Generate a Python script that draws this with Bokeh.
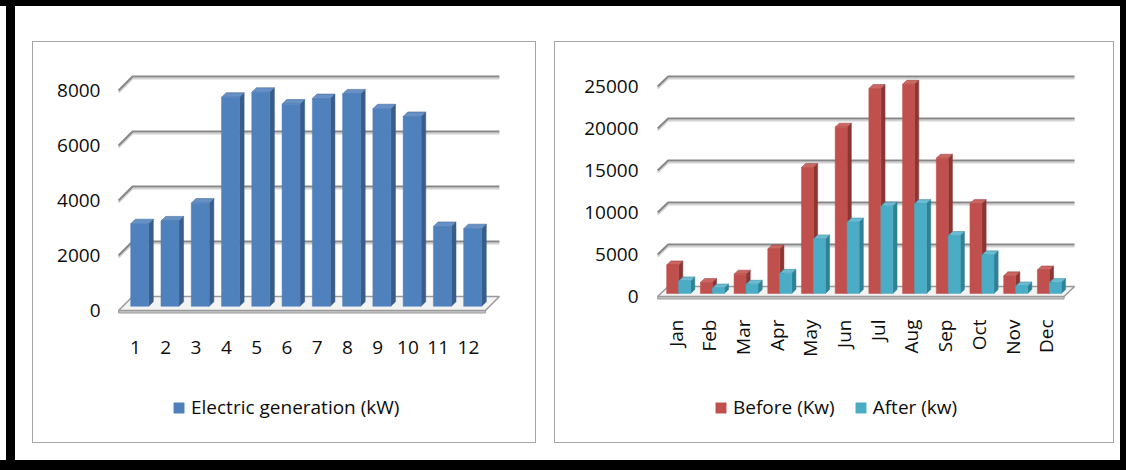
import numpy as np
from bokeh.plotting import figure
from bokeh.models import Range1d, FixedTicker, Legend, LegendItem, Spacer
from bokeh.layouts import row, column
from bokeh.embed import file_html
from bokeh.resources import INLINE

# ---------------- data ----------------
gen_months = [1, 2, 3, 4, 5, 6, 7, 8, 9, 10, 11, 12]
gen_values = [3000, 3100, 3750, 7600, 7780, 7350, 7550, 7720, 7180, 6900, 2900, 2820]
gen_ticks = [0, 2000, 4000, 6000, 8000]
gen_label = "Electric generation (kW)"

months = ["Jan", "Feb", "Mar", "Apr", "May", "Jun", "Jul", "Aug", "Sep", "Oct", "Nov", "Dec"]
before_kw = [3400, 1300, 2300, 5300, 15000, 19800, 24400, 24900, 16100, 10700, 2100, 2800]
after_kw = [1500, 650, 1100, 2400, 6500, 8500, 10400, 10700, 6900, 4600, 900, 1300]
usage_ticks = [0, 5000, 10000, 15000, 20000, 25000]
before_label = "Before (Kw)"
after_label = "After (kw)"

FONT = "Open Sans"
TXT = "#0d0d0d"


def base_fig(w, h, mb, xr, yr):
    p = figure(width=w, height=h, x_range=Range1d(*xr), y_range=Range1d(*yr),
               output_backend="svg", toolbar_location=None,
               min_border_left=mb[0], min_border_right=mb[1],
               min_border_top=mb[2], min_border_bottom=mb[3],
               background_fill_color="white", border_fill_color="white")
    p.outline_line_color = None
    p.grid.visible = False
    for ax in (p.xaxis[0], p.yaxis[0]):
        ax.axis_line_color = None
        ax.major_tick_line_color = None
        ax.minor_tick_line_color = None
        ax.major_label_text_font = FONT
        ax.major_label_text_font_size = "19px"
        ax.major_label_text_color = TXT
    p.xaxis.fixed_location = 0
    return p


def draw_floor_grid(p, ticks, x0, x1, D, px_y):
    dx, dy = D
    gxs, gys, sxs, sys_ = [], [], [], []
    sh = 2.0 / px_y
    for t in ticks[1:]:
        gxs.append([x0, x0 + dx, x1 + dx])
        gys.append([t, t + dy, t + dy])
        sxs.append([x0, x0 + dx, x1 + dx])
        sys_.append([t - sh, t + dy - sh, t + dy - sh])
    p.multi_line(sxs, sys_, line_color="#d2d2d2", line_width=2)
    p.multi_line(gxs, gys, line_color="#878787", line_width=2)
    t0 = ticks[0]
    p.patch([x0, x1, x1, x0], [t0 - 2.5 / px_y, t0 - 2.5 / px_y, t0, t0],
            fill_color="#c8c8c8", line_color="#9a9a9a", line_width=1)
    p.patch([x0, x1, x1 + dx, x0 + dx], [t0, t0, t0 + dy, t0 + dy],
            fill_color="#f3f3f3", line_color="#9a9a9a", line_width=1.5)


def draw_bars(p, xc, vals, w, D, d1, d2, front, side, top):
    xc = np.asarray(xc, dtype=float)
    vals = np.asarray(vals, dtype=float)
    dx0, dy0 = D[0] * d1, D[1] * d1
    ddx, ddy = D[0] * (d2 - d1), D[1] * (d2 - d1)
    left = xc - w / 2 + dx0
    right = xc + w / 2 + dx0
    bottom = np.full_like(vals, dy0)
    topv = vals + dy0
    side_xs = [[r, r + ddx, r + ddx, r] for r in right]
    side_ys = [[b, b + ddy, t + ddy, t] for b, t in zip(bottom, topv)]
    top_xs = [[l, r, r + ddx, l + ddx] for l, r in zip(left, right)]
    top_ys = [[t, t, t + ddy, t + ddy] for t in topv]
    p.patches(side_xs, side_ys, fill_color=side, line_color=side, line_width=0.5)
    p.patches(top_xs, top_ys, fill_color=top, line_color=side, line_width=0.5)
    r = p.quad(left=left, right=right, bottom=bottom, top=topv,
               fill_color=front, line_color=front, line_width=0.5)
    return r


def make_legend(items, loc, spacing=0):
    return Legend(items=items, orientation="horizontal", location=loc, spacing=spacing,
                  glyph_width=13, glyph_height=13, label_standoff=6,
                  label_text_font=FONT, label_text_font_size="19px",
                  label_text_color=TXT, border_line_color=None,
                  background_fill_alpha=0, padding=0, margin=0)


# ---------------- left panel (canvas 502x400, page origin 33,42) ----------------
LW, LH = 502, 400
l_mb = (79, 25, 3, 0)
l_pxx = 30.27          # px per category step
l_pxy = 0.0275         # px per kW
l_fw = LW - l_mb[0] - l_mb[1]
l_fh = LH - l_mb[2] - l_mb[3]
l_x0 = 1 - 23 / l_pxx
l_y0 = -132 / l_pxy
pL = base_fig(LW, LH, l_mb, (l_x0, l_x0 + l_fw / l_pxx), (l_y0, l_y0 + l_fh / l_pxy))
DL = (14 / l_pxx, 14 / l_pxy)
draw_floor_grid(pL, gen_ticks, 0.44, 12.56, DL, l_pxy)
rg = draw_bars(pL, gen_months, gen_values, 18 / l_pxx, DL, 0.3, 0.63,
               "#4F81BD", "#385D8A", "#6690C6")
pL.yaxis.ticker = FixedTicker(ticks=gen_ticks)
pL.yaxis.major_label_standoff = 6
pL.xaxis.ticker = FixedTicker(ticks=gen_months)
pL.xaxis.major_label_standoff = 24
pL.add_layout(make_legend([LegendItem(label=gen_label, renderers=[rg])], (60, 22)))

# ---------------- right panel (canvas 558x400, page origin 555,42) ----------------
RW, RH = 558, 400
r_mb = (95, 31, 3, 0)
r_pxx = 33.7
r_pxy = 0.0084
r_fw = RW - r_mb[0] - r_mb[1]
r_fh = RH - r_mb[2] - r_mb[3]
r_x0 = 1 - 25 / r_pxx
r_y0 = -146 / r_pxy
pR = base_fig(RW, RH, r_mb, (r_x0, r_x0 + r_fw / r_pxx), (r_y0, r_y0 + r_fh / r_pxy))
DR = (10.5 / r_pxx, 10 / r_pxy)
draw_floor_grid(pR, usage_ticks, 0.47, 12.53, DR, r_pxy)
pos = np.arange(1, 13)
bw = 12 / r_pxx
rb = draw_bars(pR, pos - bw / 2, before_kw, bw, DR, 0.3, 0.7,
               "#C0504D", "#8C3634", "#CB6663")
ra = draw_bars(pR, pos + bw / 2, after_kw, bw, DR, 0.3, 0.7,
               "#4BACC6", "#2F8197", "#6BBCD2")
pR.yaxis.ticker = FixedTicker(ticks=usage_ticks)
pR.yaxis.major_label_standoff = 6
pR.xaxis.ticker = FixedTicker(ticks=list(range(1, 13)))
pR.xaxis.major_label_overrides = {i + 1: m for i, m in enumerate(months)}
pR.xaxis.major_label_orientation = np.pi / 2
pR.xaxis.major_label_standoff = 17
pR.add_layout(make_legend([LegendItem(label=before_label, renderers=[rb]),
                           LegendItem(label=after_label, renderers=[ra])], (64, 22), 19))

BLACK = {"background-color": "#000000"}
GRAY = {"background-color": "#a6a6a6"}


def boxed(p, w, h):
    return column(Spacer(width=w + 2, height=1, styles=GRAY),
                  row(Spacer(width=1, height=h, styles=GRAY), p,
                      Spacer(width=1, height=h, styles=GRAY)),
                  Spacer(width=w + 2, height=1, styles=GRAY))


page = column(
    Spacer(width=1126, height=6, styles=BLACK),
    row(
        Spacer(width=6, height=454),
        Spacer(width=9, height=454, styles=BLACK),
        Spacer(width=17, height=454),
        column(Spacer(width=504, height=35), boxed(pL, LW, LH), Spacer(width=504, height=17)),
        Spacer(width=18, height=454),
        column(Spacer(width=560, height=35), boxed(pR, RW, RH), Spacer(width=560, height=17)),
        Spacer(width=6, height=454),
        Spacer(width=6, height=454, styles=BLACK),
    ),
    Spacer(width=1126, height=10, styles=BLACK),
)

open("out.html", "w").write(file_html(page, INLINE))
